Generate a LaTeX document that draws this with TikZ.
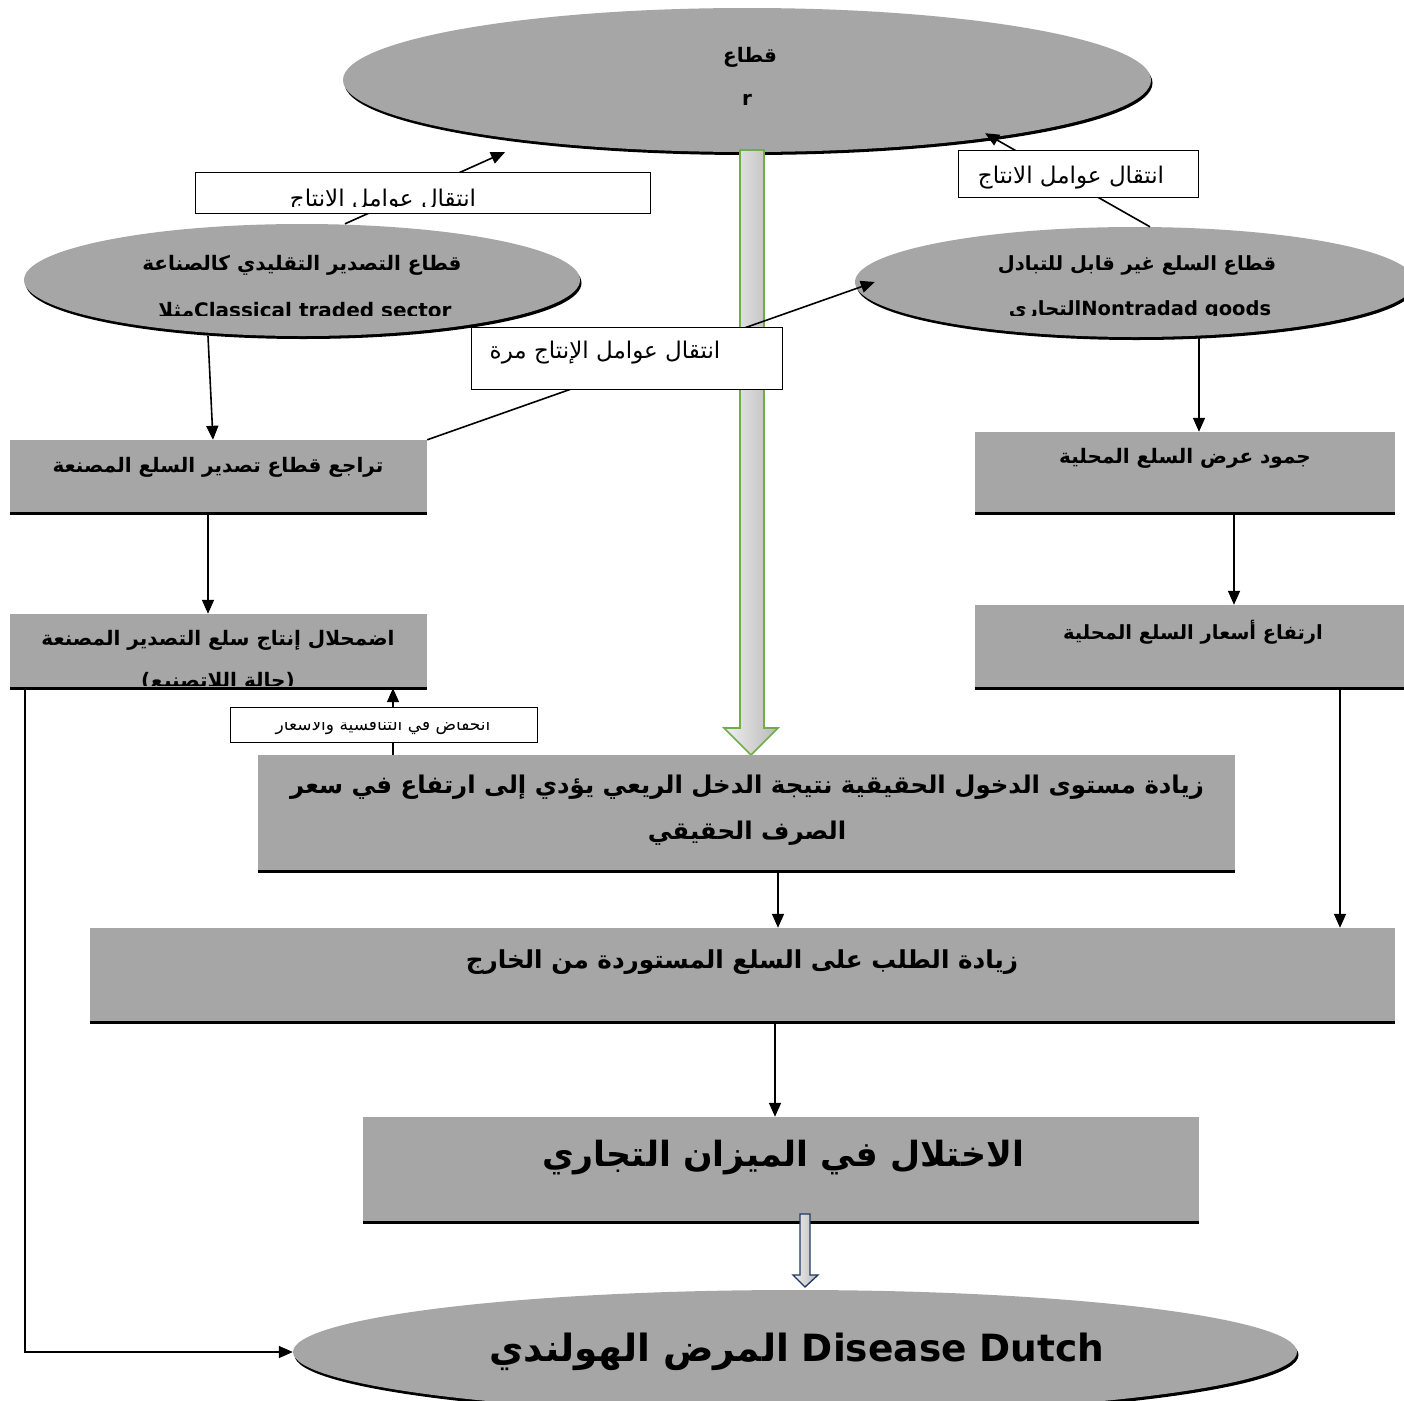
\documentclass[tikz,border=0pt]{standalone}
\usepackage{fontspec}
\usetikzlibrary{arrows.meta,shapes.geometric,shadows}
\TeXXeTstate=1
\newfontfamily\arabicfont[Script=Arabic]{DejaVu Sans}
\definecolor{grisCaja}{HTML}{A6A6A6}
\definecolor{verdeFlecha}{HTML}{70AD47}
\definecolor{azulFlecha}{HTML}{1F3864}
\newcommand{\rtl}[1]{\beginR#1\endR}

\begin{document}
\begin{tikzpicture}[x=1pt,y=-1pt,>={Triangle[length=14pt,width=12pt]},
  sector/.style={ellipse,fill=grisCaja,inner sep=0pt,
    drop shadow={shadow xshift=1.5pt,shadow yshift=-3pt,fill=black,opacity=1}},
  grisbox/.style={rectangle,fill=grisCaja,inner sep=0pt},
  tagbox/.style={rectangle,draw=black,fill=white,line width=0.9pt,inner sep=0pt},
  flow/.style={->,line width=1.6pt},
  tb/.style={font=\arabicfont\bfseries\fontsize{#1}{#1}\selectfont,inner sep=0pt},
  tr/.style={font=\arabicfont\fontsize{#1}{#1}\selectfont,inner sep=0pt}]
  \useasboundingbox (0,0) rectangle (1404,1400);
  \fill[white] (0,0) rectangle (1404,1400);

  % ellipses
  \node[sector,minimum width=808pt,minimum height=144pt] (rsec) at (747,80) {};
  \node[sector,minimum width=556pt,minimum height=112pt] (cls) at (302,280) {};
  \node[sector,minimum width=560pt,minimum height=110pt] (ntr) at (1135,282) {};
  \node[sector,minimum width=1004pt,minimum height=124pt] (dut) at (795,1352) {};

  % big green block arrow
  \shade[left color=gray!12,right color=gray!55,draw=verdeFlecha,line width=1.6pt]
    (740,150) -- (764,150) -- (764,728) -- (778,728) -- (751,755)
    -- (724,728) -- (740,728) -- cycle;

  % gray boxes
  \node[grisbox,minimum width=417pt,minimum height=73pt] (decl) at (218.5,476.5) {};
  \node[grisbox,minimum width=417pt,minimum height=74pt] (decay) at (218.5,651) {};
  \node[grisbox,minimum width=420pt,minimum height=81pt] (stag) at (1185,472.5) {};
  \node[grisbox,minimum width=429pt,minimum height=83pt] (rise) at (1189.5,646.5) {};
  \node[grisbox,minimum width=977pt,minimum height=116pt] (main) at (746.5,813) {};
  \node[grisbox,minimum width=1305pt,minimum height=94pt] (dem) at (742.5,975) {};
  \node[grisbox,minimum width=836pt,minimum height=105pt] (imb) at (781,1169.5) {};
  \foreach \b in {decl,decay,stag,rise,main,dem,imb}
    \draw[line width=2.6pt] (\b.south west) -- (\b.south east);

  % connectors
  \draw[flow] ([xshift=43pt]cls.north) -- ([xshift=-242pt]rsec.south);
  \draw[flow] ([xshift=15pt]ntr.north) -- ([xshift=238pt,yshift=19pt]rsec.south);
  \draw[flow] (decl.north east) -- ([xshift=20pt]ntr.west);
  \draw[flow] ([xshift=-94pt]cls.south) -- ([xshift=-5.5pt]decl.north);
  \draw[flow] ([xshift=-10.5pt]decl.south) -- ([xshift=-10.5pt]decay.north);
  \draw[flow] ([xshift=-353.5pt]main.north) -- ([xshift=174.5pt]decay.south);
  \draw[flow] ([xshift=15pt]decay.south west) |- (dut.west);
  \draw[flow] ([xshift=64pt]ntr.south) -- ([xshift=14pt]stag.north);
  \draw[flow] ([xshift=49pt]stag.south) -- ([xshift=49pt]stag.south |- rise.north);
  \draw[flow] ([xshift=150.5pt]rise.south) -- ([xshift=150.5pt]rise.south |- dem.north);
  \draw[flow] ([xshift=31.5pt]main.south) -- ([xshift=31.5pt]main.south |- dem.north);
  \draw[flow] ([xshift=32.5pt]dem.south) -- ([xshift=32.5pt]dem.south |- imb.north);

  % small blue block arrow
  \shade[left color=gray!12,right color=gray!55,draw=azulFlecha,line width=1.3pt]
    (800,1214) -- (810,1214) -- (810,1275) -- (818,1275) -- (805,1287)
    -- (793,1275) -- (800,1275) -- cycle;

  % label boxes
  \node[tagbox,minimum width=455pt,minimum height=41pt] (labL) at (422.5,192.5) {};
  \node[tagbox,minimum width=240pt,minimum height=47pt] (labR) at (1078,173.5) {};
  \node[tagbox,minimum width=311pt,minimum height=62pt] (labM) at (626.5,358) {};
  \node[tagbox,minimum width=307pt,minimum height=35pt] (labS) at (383.5,724.5) {};

  % texts
  \node[tb=20] (rsecA) at (750,57) {\rtl{قطاع}};
  \node[tb=20] (rsecB) at (747,100) {r};
  \node[tb=20] (clsA) at (302,265) {\rtl{قطاع التصدير التقليدي كالصناعة}};
  \begin{scope}
    \clip (0,0) rectangle (600,315);
    \node[tb=20] (clsB) at (305,310) {\rtl{مثلا}Classical traded sector};
  \end{scope}
  \node[tb=19.5] (ntrA) at (1137,265) {\rtl{قطاع السلع غير قابل للتبادل}};
  \begin{scope}
    \clip (850,0) rectangle (1404,315);
    \node[tb=19.5] (ntrB) at (1140,310) {\rtl{التجاري}Nontradad goods};
  \end{scope}
  \begin{scope}
    \clip (labL.north west) rectangle ([yshift=7pt]labL.south east);
    \node[tr=23] (labLt) at (383,201) {\rtl{انتقال عوامل الانتاج}};
  \end{scope}
  \node[tr=23] (labRt) at (1071,178) {\rtl{انتقال عوامل الانتاج}};
  \node[tr=23] (labMt) at (605,353) {\rtl{انتقال عوامل الإنتاج مرة}};
  \begin{scope}
    \clip ([yshift=-16pt]labS.north west) rectangle ([yshift=8pt]labS.south east);
    \node[tr=17] (labSt) at (383,724) {\rtl{انخفاض في التنافسية والأسعار}};
  \end{scope}
  \node[tb=20] (declt) at (218,467) {\rtl{تراجع قطاع تصدير السلع المصنعة}};
  \node[tb=20] (decayA) at (218,640) {\rtl{اضمحلال إنتاج سلع التصدير المصنعة}};
  \begin{scope}
    \clip (decay.north west) rectangle ([yshift=3pt]decay.south east);
    \node[tb=20] (decayB) at (218,682) {\rtl{(حالة اللاتصنيع)}};
  \end{scope}
  \node[tb=20] (stagt) at (1185,458) {\rtl{جمود عرض السلع المحلية}};
  \node[tb=19.5] (riset) at (1193,632) {\rtl{ارتفاع أسعار السلع المحلية}};
  \node[tb=24.4] (mainA) at (747,787) {\rtl{زيادة مستوى الدخول الحقيقية نتيجة الدخل الريعي يؤدي إلى ارتفاع في سعر}};
  \node[tb=24.4] (mainB) at (747,833) {\rtl{الصرف الحقيقي}};
  \node[tb=24.7] (demt) at (742,962) {\rtl{زيادة الطلب على السلع المستوردة من الخارج}};
  \node[tb=34.7] (imbt) at (783,1158) {\rtl{الاختلال في الميزان التجاري}};
  \node[tb=37.5] (dutt) at (797,1352) {\rtl{المرض الهولندي} Disease Dutch};
\end{tikzpicture}
\end{document}
